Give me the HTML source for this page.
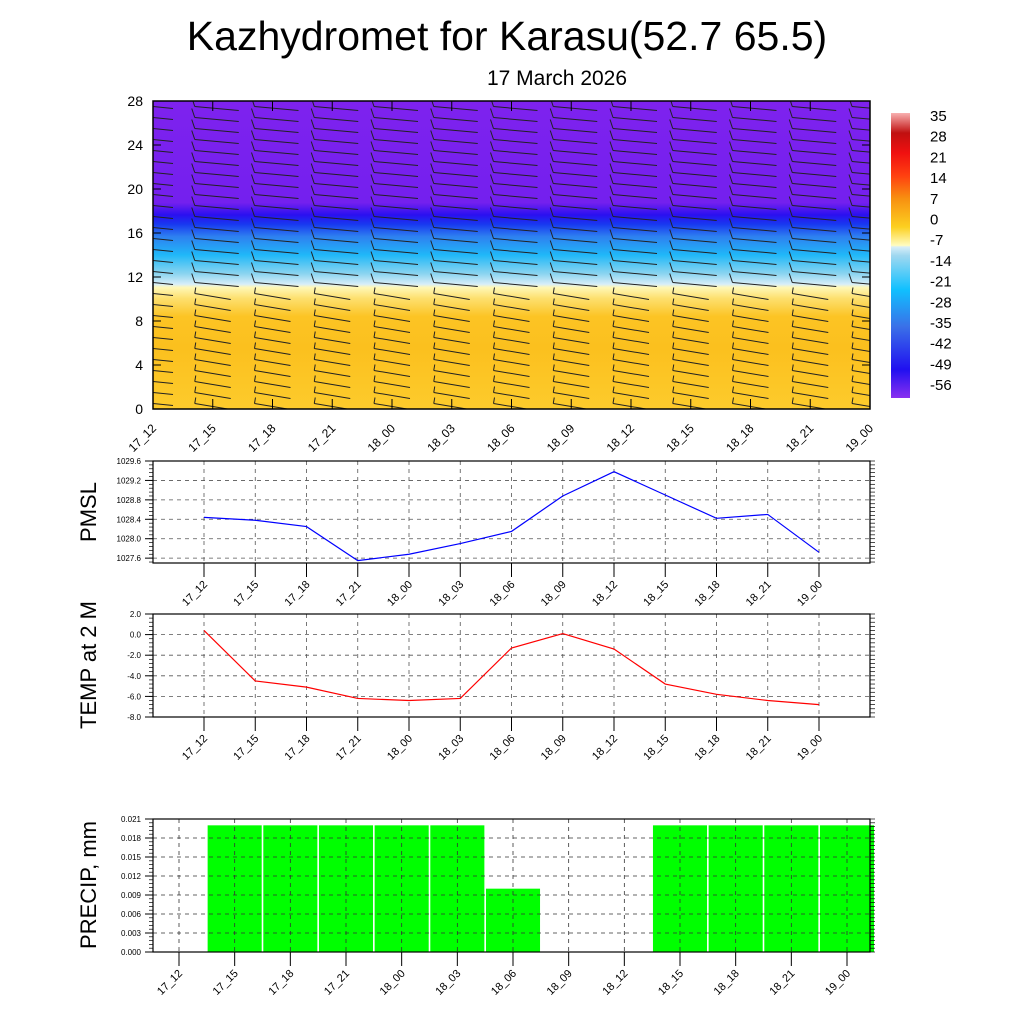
<!DOCTYPE html>
<html><head><meta charset="utf-8">
<style>
body{margin:0;background:#fff;}
svg{display:block;font-family:"Liberation Sans",sans-serif;}
</style></head>
<body>
<svg id="c" width="1024" height="1024" viewBox="0 0 1024 1024">
<defs>
<clipPath id="clipTop"><rect x="153" y="101" width="717" height="308"/></clipPath>
<linearGradient id="tg" x1="0" y1="1" x2="0" y2="0">
<stop offset="0" stop-color="#fdcb2c"/>
<stop offset="0.2" stop-color="#fbc01e"/>
<stop offset="0.3" stop-color="#fcc424"/>
<stop offset="0.36" stop-color="#fde070"/>
<stop offset="0.395" stop-color="#fff8b8"/>
<stop offset="0.405" stop-color="#d8eef8"/>
<stop offset="0.44" stop-color="#8ad4f0"/>
<stop offset="0.5" stop-color="#20b8f8"/>
<stop offset="0.56" stop-color="#2e80f0"/>
<stop offset="0.6" stop-color="#1838f0"/>
<stop offset="0.63" stop-color="#2a10f0"/>
<stop offset="0.67" stop-color="#7420ee"/>
<stop offset="1" stop-color="#7e22ee"/>
</linearGradient>
<linearGradient id="cg" x1="0" y1="1" x2="0" y2="0">
<stop offset="0" stop-color="#8a30f0"/>
<stop offset="0.1" stop-color="#2010f0"/>
<stop offset="0.25" stop-color="#3a70e8"/>
<stop offset="0.38" stop-color="#10c0ff"/>
<stop offset="0.5" stop-color="#a0d8f0"/>
<stop offset="0.53" stop-color="#d8eef8"/>
<stop offset="0.535" stop-color="#fffcc0"/>
<stop offset="0.6" stop-color="#fcd020"/>
<stop offset="0.7" stop-color="#f89010"/>
<stop offset="0.78" stop-color="#ff4010"/>
<stop offset="0.86" stop-color="#f01010"/>
<stop offset="0.93" stop-color="#c01010"/>
<stop offset="1" stop-color="#f8b0b0"/>
</linearGradient>
</defs>
<text x="507" y="50" font-size="41" text-anchor="middle">Kazhydromet for Karasu(52.7 65.5)</text>
<text x="557" y="85" font-size="21" text-anchor="middle">17 March 2026</text>
<g id="g"></g>
</svg>
<script>
const times=["17_12","17_15","17_18","17_21","18_00","18_03","18_06","18_09","18_12","18_15","18_18","18_21","19_00"];
const pmsl=[1028.44,1028.38,1028.25,1027.55,1027.68,1027.9,1028.15,1028.88,1029.38,1028.9,1028.42,1028.5,1027.72];
const temp=[0.4,-4.5,-5.1,-6.2,-6.4,-6.2,-1.3,0.1,-1.4,-4.8,-5.8,-6.4,-6.8];
const precip=[0,0.02,0.02,0.02,0.02,0.02,0.01,0,0,0.02,0.02,0.02,0.02];
const heightTicks=[0,4,8,12,16,20,24,28];
const pmslTicks=["1027.6","1028.0","1028.4","1028.8","1029.2","1029.6"];
const tempTicks=["-8.0","-6.0","-4.0","-2.0","0.0","2.0"];
const precipTicks=["0.000","0.003","0.006","0.009","0.012","0.015","0.018","0.021"];
const cbLabels=["35","28","21","14","7","0","-7","-14","-21","-28","-35","-42","-49","-56"];

const NS="http://www.w3.org/2000/svg";
const G=document.getElementById('g');
function mk(t,a,p){const e=document.createElementNS(NS,t);for(const k in a)e.setAttribute(k,a[k]);(p||G).appendChild(e);return e;}
function txt(x,y,s,size,anchor,rot){const e=mk('text',{x:x,y:y,'font-size':size,'text-anchor':anchor||'middle'});if(rot!==undefined)e.setAttribute('transform',`rotate(${rot} ${x} ${y})`);e.textContent=s;return e;}

// ---- Top cross-section panel
const L=153,R=870,T1=101,B1=409;
const hy=v=>B1-(v/28)*(B1-T1);
const hx=i=>L+i*(R-L)/12;
let r=mk('rect',{x:L,y:T1,width:R-L,height:B1-T1,fill:'url(#tg)'});


const barbs=mk('g',{stroke:'#222','stroke-width':1,fill:'none','clip-path':'url(#clipTop)'});


for(let i=0;i<13;i++){
  const xc=hx(i);
  for(let h=0.5;h<28;h+=1){
    const y=hy(h);
    if(i===0){mk('line',{x1:L,y1:y,x2:L+20,y2:y+2},barbs);continue;}
    const x0=xc-18;
    if(h<11){
      mk('line',{x1:x0,y1:y,x2:x0+36,y2:y+6},barbs);
      mk('line',{x1:x0,y1:y,x2:x0+1,y2:y-6},barbs);
    }else{
      mk('line',{x1:x0,y1:y,x2:x0+44,y2:y+4},barbs);
      mk('line',{x1:x0,y1:y,x2:x0-3,y2:y-9},barbs);
    }
  }
}
mk('rect',{x:L,y:T1,width:R-L,height:B1-T1,fill:'none',stroke:'#000','stroke-width':1.5});
heightTicks.forEach(v=>{const y=hy(v);mk('line',{x1:L,y1:y,x2:L+8,y2:y,stroke:'#000'});mk('line',{x1:R,y1:y,x2:R-8,y2:y,stroke:'#000'});
 const t=txt(L-10,y+5,String(v),14,'end');});
times.forEach((s,i)=>{const x=hx(i);mk('line',{x1:x,y1:B1,x2:x,y2:B1-10,stroke:'#000'});mk('line',{x1:x,y1:T1,x2:x,y2:T1+10,stroke:'#000'});
 const t=txt(x+4,B1+20,s,12,'end',-45);});
// colorbar
const cb=mk('rect',{x:891,y:113,width:19,height:285,fill:'url(#cg)'});


cbLabels.forEach((s,i)=>{const t=txt(930,121+i*20.7,s,15,'start');});

// ---- line panels
function linePanel(top,bot,xs0,xs1,ymin,ymax,ticks,vals,color,label,labelY,name){
  const y=v=>bot-(v-ymin)/(ymax-ymin)*(bot-top);
  const x=i=>xs0+i*(xs1-xs0)/12;
  mk('rect',{x:L,y:top,width:R-L,height:bot-top,fill:'#fff'});
  ticks.forEach(s=>{const v=parseFloat(s),yy=y(v);
    mk('line',{x1:L,y1:yy,x2:R,y2:yy,stroke:'#555','stroke-dasharray':'4,4','stroke-width':0.8});
    mk('line',{x1:L-8,y1:yy,x2:L,y2:yy,stroke:'#000'});
    const t=txt(L-12,yy+3,s,8,'end');});
  const yTop=y(parseFloat(ticks[ticks.length-1])),yBot=y(parseFloat(ticks[0]));
  const step=(ticks.length-1)*5;
  for(let k=-3;k<=step+3;k++){const yy=yTop+k*(yBot-yTop)/step;
    if(yy<=bot&&yy>=top){mk('line',{x1:L-4,y1:yy,x2:L,y2:yy,stroke:'#000','stroke-width':0.7});mk('line',{x1:R,y1:yy,x2:R+5,y2:yy,stroke:'#000','stroke-width':0.7});}}
  times.forEach((s,i)=>{const xx=x(i);mk('line',{x1:xx,y1:top,x2:xx,y2:bot,stroke:'#555','stroke-dasharray':'4,4','stroke-width':0.8});
    mk('line',{x1:xx,y1:bot,x2:xx,y2:bot+14,stroke:'#000'});
    const t=txt(xx+4,bot+22,s,11,'end',-45);});
  if(vals){const p=mk('polyline',{points:vals.map((v,i)=>x(i)+','+y(v)).join(' '),fill:'none',stroke:color,'stroke-width':1.2});
    }
  mk('rect',{x:L,y:top,width:R-L,height:bot-top,fill:'none',stroke:'#000','stroke-width':1.2});
  const t=txt(96,labelY,label,22,'middle',-90);
  return {x,y};
}
linePanel(461,563,204,819,1027.5,1029.6,pmslTicks,pmsl,'#0000ff','PMSL',512,'pmsl');
linePanel(614,717,204,819,-8,2,tempTicks,temp,'#ff0000','TEMP at 2 M',665,'temp');
// precip
(function(){
  const top=819,bot=952,x0=179,x1=847;
  const y=v=>bot-(v/0.021)*(bot-top);
  const x=i=>x0+i*(x1-x0)/12;
  const w=(x1-x0)/12;
  precip.forEach((v,i)=>{if(v>0){const b=mk('rect',{x:x(i)-w/2+0.8,y:y(v),width:w-1.6,height:bot-y(v),fill:'#00ff00'});
    }});
  precipTicks.forEach(s=>{const yy=y(parseFloat(s));
    mk('line',{x1:L,y1:yy,x2:R,y2:yy,stroke:'#333','stroke-dasharray':'4,4','stroke-width':0.8});
    mk('line',{x1:L-8,y1:yy,x2:L,y2:yy,stroke:'#000'});
    const t=txt(L-12,yy+3,s,8,'end');});
  for(let k=0;k<=35;k++){const yy=top+k*(bot-top)/35;mk('line',{x1:L-4,y1:yy,x2:L,y2:yy,stroke:'#000','stroke-width':0.7});mk('line',{x1:R,y1:yy,x2:R+5,y2:yy,stroke:'#000','stroke-width':0.7});}
  times.forEach((s,i)=>{const xx=x(i);mk('line',{x1:xx,y1:top,x2:xx,y2:bot,stroke:'#333','stroke-dasharray':'4,4','stroke-width':0.8});
    mk('line',{x1:xx,y1:bot,x2:xx,y2:bot+14,stroke:'#000'});
    const t=txt(xx+4,bot+22,s,11,'end',-45);});
  mk('rect',{x:L,y:top,width:R-L,height:bot-top,fill:'none',stroke:'#000','stroke-width':1.2});
  const t=txt(96,885,'PRECIP, mm',22,'middle',-90);
})();
</script>
</body></html>
